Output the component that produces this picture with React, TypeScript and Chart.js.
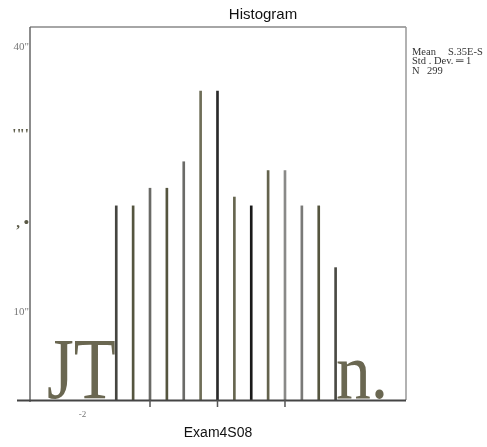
import React, { useEffect, useRef } from "react";
import { Chart, registerables } from "chart.js";

Chart.register(...registerables);

// Bar edge positions (z-scores) and counts
const binPositions = [-1.5, -1.25, -1.0, -0.75, -0.5, -0.25, 0.0, 0.25, 0.5, 0.75, 1.0, 1.25, 1.5, 1.75];
const binCounts = [22, 22, 24, 24, 27, 35, 35, 23, 22, 26, 26, 22, 22, 15];
const barColors = [
  "#454540", "#55553f", "#6a6a66", "#55553f", "#6b6b68", "#6f6e58", "#2a2a2a",
  "#66654f", "#1a1a1a", "#64634d", "#8a8a88", "#7a7a78", "#55553f", "#4a4a44",
];
const yTickValues = [10, 20, 30, 40];
const yTickLabels = ['10"', ", \u2022", "'\"'", '40"'];
const xTickValues = [-2, -1, 0, 1, 2];
const xTickLabels = ["-2", "", "", "", ""];
const xTickMarks = [-1, 0, 1];
const titleText = "Histogram";
const xAxisTitle = "Exam4S08";
const statLines = [
  ["Mean", "S.35E-S"],
  ["Std . Dev. \u2550 1", ""],
  ["N", "299"],
];

const overlayPlugin = {
  id: "overlay",
  beforeDatasetsDraw(chart: any) {
    const ctx = chart.ctx;
    const olive = "#6a6751";
    ctx.save();
    ctx.fillStyle = olive;
    ctx.textBaseline = "alphabetic";
    ctx.textAlign = "left";
    ctx.save();
    ctx.translate(47, 398);
    ctx.scale(0.8, 1);
    ctx.font = '86px "Liberation Serif", serif';
    ctx.fillText("JT", 0, 0);
    ctx.restore();
    ctx.save();
    ctx.translate(336, 398);
    ctx.scale(0.87, 1);
    ctx.font = '80px "Liberation Serif", serif';
    ctx.fillText("n.", 0, 0);
    ctx.restore();
    ctx.restore();
  },
  afterDraw(chart: any) {
    const ctx = chart.ctx;
    const a = chart.chartArea;
    const xs = chart.scales.x;
    ctx.save();
    // frame
    ctx.lineWidth = 1.5;
    ctx.strokeStyle = "#888";
    ctx.beginPath();
    ctx.moveTo(a.left, a.top);
    ctx.lineTo(a.right, a.top);
    ctx.stroke();
    ctx.strokeStyle = "#666";
    ctx.beginPath();
    ctx.moveTo(a.left, a.top);
    ctx.lineTo(a.left, a.bottom + 2);
    ctx.stroke();
    ctx.strokeStyle = "#999";
    ctx.beginPath();
    ctx.moveTo(a.right, a.top);
    ctx.lineTo(a.right, a.bottom);
    ctx.stroke();
    ctx.strokeStyle = "#444";
    ctx.lineWidth = 2;
    ctx.beginPath();
    ctx.moveTo(17, a.bottom + 0.5);
    ctx.lineTo(a.right, a.bottom + 0.5);
    ctx.stroke();
    // tick marks
    ctx.lineWidth = 1.5;
    ctx.strokeStyle = "#555";
    xTickMarks.forEach((v) => {
      const px = xs.getPixelForValue(v);
      ctx.beginPath();
      ctx.moveTo(px, a.bottom);
      ctx.lineTo(px, a.bottom + 7);
      ctx.stroke();
    });
    // title
    ctx.fillStyle = "#111";
    ctx.textAlign = "center";
    ctx.textBaseline = "middle";
    ctx.font = '15px "Liberation Sans", Arial, sans-serif';
    ctx.fillText(titleText, 263, 15);
    ctx.font = '14px "Liberation Sans", Arial, sans-serif';
    ctx.fillText(xAxisTitle, (a.left + a.right) / 2, 433);
    // stats
    ctx.textAlign = "left";
    ctx.textBaseline = "alphabetic";
    ctx.fillStyle = "#333";
    ctx.font = '10.5px "Liberation Serif", serif';
    const baselines = [55, 64, 74];
    const secondX = [448, 0, 427];
    statLines.forEach((l, i) => {
      ctx.fillText(l[0], 412, baselines[i]);
      if (l[1]) ctx.fillText(l[1], secondX[i], baselines[i]);
    });
    ctx.restore();
  },
};

export default function App() {
  const ref = useRef<HTMLCanvasElement | null>(null);
  useEffect(() => {
    if (!ref.current) return;
    const chart = new Chart(ref.current, {
      type: "bar",
      data: {
        datasets: [
          {
            data: binPositions.map((x, i) => ({ x, y: binCounts[i] })),
            backgroundColor: barColors,
            borderWidth: 0,
            barThickness: 2,
          },
        ],
      },
      options: {
        responsive: false,
        animation: false,
        events: [],
        layout: { padding: { left: 0, top: 27, right: 81, bottom: 0 } },
        plugins: { legend: { display: false }, tooltip: { enabled: false }, title: { display: false } },
        scales: {
          x: {
            type: "linear",
            min: -2.778,
            max: 2.793,
            offset: false,
            border: { display: false },
            grid: { display: true, drawOnChartArea: false, drawTicks: true, tickLength: 7, color: "transparent" },
            afterBuildTicks: (s: any) => {
              s.ticks = xTickValues.map((v) => ({ value: v }));
            },
            afterFit: (s: any) => {
              s.height = 47;
            },
            ticks: {
              autoSkip: false,
              maxRotation: 0,
              padding: 2,
              color: "#777",
              font: { family: '"Liberation Serif", serif', size: 9 },
              callback: (v: any) => {
                const i = xTickValues.indexOf(Number(v));
                return i >= 0 ? xTickLabels[i] : "";
              },
            },
          },
          y: {
            min: 0,
            max: 42.27,
            border: { display: false },
            grid: { display: false, drawTicks: false },
            afterBuildTicks: (s: any) => {
              s.ticks = yTickValues.map((v) => ({ value: v }));
            },
            afterFit: (s: any) => {
              s.width = 30;
            },
            ticks: {
              autoSkip: false,
              padding: 1,
              color: (c: any) => (c.tick && (c.tick.value === 20 || c.tick.value === 30) ? "#5a5946" : "#777"),
              font: (c: any) =>
                c.tick && (c.tick.value === 20 || c.tick.value === 30)
                  ? { family: '"Liberation Serif", serif', size: 15, weight: "bold" }
                  : { family: '"Liberation Serif", serif', size: 11 },
              callback: (v: any) => {
                const i = yTickValues.indexOf(Number(v));
                return i >= 0 ? yTickLabels[i] : "";
              },
            },
          },
        },
      },
      plugins: [overlayPlugin],
    });
    return () => chart.destroy();
  }, []);
  return (
    <div style={{ position: "fixed", left: 0, top: 0, width: 487, height: 447, background: "#fff" }}>
      <canvas ref={ref} width={487} height={447} style={{ display: "block" }} />
    </div>
  );
}
